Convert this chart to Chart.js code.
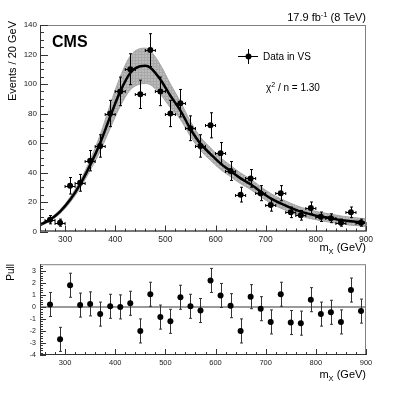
<!DOCTYPE html>
<html>
<head>
<meta charset="utf-8">
<script src="https://cdn.jsdelivr.net/npm/chart.js@4.4.1/dist/chart.umd.min.js"></script>
<style>
  body { margin: 0; background: #fff; }
  #wrap { position: relative; width: 407px; height: 396px; }
  canvas { position: absolute; left: 0; }
</style>
</head>
<body>
<div id="wrap">
  <canvas id="mainPlot" width="407" height="256" style="top:0"></canvas>
  <canvas id="pullPlot" width="407" height="140" style="top:256px"></canvas>
</div>
<script>
// data
const binCenters = [270, 290, 310, 330, 350, 370, 390, 410, 430, 450, 470, 490, 510, 530, 550, 570,
  590, 610, 630, 650, 670, 690, 710, 730, 750, 770, 790, 810, 830, 850, 870, 890];
const dataCounts = [8, 6, 31, 33, 48, 58, 80, 95, 110, 93, 123, 95, 80, 87, 70, 58,
  72, 53, 41, 25, 36, 26, 18, 26, 13, 11, 16, 10, 9, 6, 13, 6];
const dataErrors = [2.8, 2.4, 5.6, 5.7, 6.9, 7.6, 8.9, 9.7, 10.5, 9.6, 11.1, 9.7, 8.9, 9.3, 8.4, 7.6,
  8.5, 7.3, 6.4, 5, 6, 5.1, 4.2, 5.1, 3.6, 3.3, 4, 3.2, 3, 2.4, 3.6, 2.4];
const binHalfWidth = 10;

const fitMass = [250, 270, 290, 310, 330, 350, 370, 390, 410, 430, 450, 460, 470, 490, 510, 530, 550,
  570, 590, 610, 630, 650, 670, 690, 710, 730, 750, 770, 790, 810, 830, 850, 870, 890, 900];
const fitValue = [4.5, 8, 13.5, 21.5, 32, 45, 60, 78, 95, 107.5, 112, 112.3, 111, 103, 92, 82, 69.5,
  59.5, 52.5, 46, 41, 36, 32, 27, 22.5, 19, 16, 13.5, 11.6, 10.1, 9, 7.8, 7, 6.3, 6];
const fitBand = [0.8, 1, 1.3, 1.8, 2.5, 3.5, 5.5, 8, 10, 11.5, 12, 12, 11.5, 10, 8, 6, 5,
  4.5, 4.2, 4, 3.8, 3.6, 3.5, 3.4, 3.3, 3.2, 3.1, 3, 2.9, 2.8, 2.8, 2.7, 2.7, 2.6, 2.6];

const pullValues = [0.2, -2.7, 1.8, 0.15, 0.25, -0.6, 0.05, 0, 0.3, -2, 1.05, -0.85, -1.2, 0.8, 0.05, -0.3,
  2.2, 0.95, 0.1, -2, 0.85, -0.15, -1.25, 1.05, -1.3, -1.35, 0.6, -0.6, -0.45, -1.25, 1.4, -0.35];
const pullError = 1;

const xTickValues = [300, 400, 500, 600, 700, 800, 900];
const yTickValues = [0, 20, 40, 60, 80, 100, 120, 140];
const pullTickValues = [-4, -3, -2, -1, 0, 1, 2, 3];

const FONT = "'Liberation Sans', Arial, sans-serif";

function makePattern() {
  const c = document.createElement('canvas');
  c.width = 3; c.height = 3;
  const g = c.getContext('2d');
  g.fillStyle = '#bababa';
  g.fillRect(0, 0, 3, 3);
  g.fillStyle = '#a8a8a8';
  g.fillRect(0, 0, 3, 1);
  g.fillRect(0, 0, 1, 3);
  return g.createPattern(c, 'repeat');
}

// text with sub/superscripts, parts = [{t, size, dy}]
function drawRich(ctx, parts, x, y, align) {
  let total = 0;
  parts.forEach(p => {
    ctx.font = (p.bold ? 'bold ' : '') + p.size + 'px ' + FONT;
    p.w = ctx.measureText(p.t).width;
    total += p.w;
  });
  let cx = align === 'right' ? x - total : x;
  ctx.textAlign = 'left';
  ctx.textBaseline = 'alphabetic';
  parts.forEach(p => {
    ctx.font = (p.bold ? 'bold ' : '') + p.size + 'px ' + FONT;
    ctx.fillText(p.t, cx, y + (p.dy || 0));
    cx += p.w;
  });
}

function drawFrameAndTicks(ctx, chart, xMinor, yMinor, yMajorStep, yMajorLen, yMinorLen) {
  const a = chart.chartArea;
  const xs = chart.scales.x, ys = chart.scales.y;
  ctx.save();
  ctx.strokeStyle = '#808080';
  ctx.lineWidth = 1;
  ctx.strokeRect(a.left + 0.5, a.top + 0.5, a.right - a.left - 1, a.bottom - a.top - 1);
  ctx.strokeStyle = '#333';
  ctx.beginPath();
  ctx.moveTo(a.left + 0.5, a.top); ctx.lineTo(a.left + 0.5, a.bottom);
  ctx.moveTo(a.left, a.bottom - 0.5); ctx.lineTo(a.right, a.bottom - 0.5);
  // x ticks
  const nx = Math.round((xs.max - xs.min) / xMinor);
  for (let i = 0; i <= nx; i++) {
    const v = Math.ceil(xs.min / xMinor) * xMinor + i * xMinor;
    if (v > xs.max) break;
    const len = (v % 100 === 0) ? 6 : 3;
    const px = Math.round(xs.getPixelForValue(v)) + 0.5;
    ctx.moveTo(px, a.bottom); ctx.lineTo(px, a.bottom - len);
  }
  // y ticks
  const ny = Math.round((ys.max - ys.min) / yMinor);
  for (let i = 0; i <= ny; i++) {
    const v = ys.min + i * yMinor;
    if (v > ys.max + 1e-6) break;
    const r = v / yMajorStep;
    const major = Math.abs(r - Math.round(r)) < 1e-6;
    const py = Math.round(ys.getPixelForValue(v)) + 0.5;
    ctx.moveTo(a.left, py); ctx.lineTo(a.left + (major ? yMajorLen : yMinorLen), py);
  }
  ctx.stroke();
  ctx.restore();
}

const mainPlugin = {
  id: 'mainDecor',
  beforeDatasetDraw(chart, args) {
    if (args.index !== 3) return;
    const ctx = chart.ctx, xs = chart.scales.x, ys = chart.scales.y;
    ctx.save();
    ctx.strokeStyle = '#000';
    ctx.lineWidth = 1;
    ctx.beginPath();
    binCenters.forEach((c, i) => {
      const px = Math.round(xs.getPixelForValue(c)) + 0.5;
      const py = Math.round(ys.getPixelForValue(dataCounts[i])) + 0.5;
      const top = ys.getPixelForValue(dataCounts[i] + dataErrors[i]);
      const bot = ys.getPixelForValue(dataCounts[i] - dataErrors[i]);
      const l = xs.getPixelForValue(c - binHalfWidth), r = xs.getPixelForValue(c + binHalfWidth);
      ctx.moveTo(px, top); ctx.lineTo(px, bot);
      ctx.moveTo(px - 1.5, top); ctx.lineTo(px + 1.5, top);
      ctx.moveTo(px - 1.5, bot); ctx.lineTo(px + 1.5, bot);
      ctx.moveTo(l, py); ctx.lineTo(r, py);
      ctx.moveTo(l, py - 1.5); ctx.lineTo(l, py + 1.5);
      ctx.moveTo(r, py - 1.5); ctx.lineTo(r, py + 1.5);
    });
    ctx.stroke();
    ctx.restore();
  },
  afterDraw(chart) {
    const ctx = chart.ctx, a = chart.chartArea;
    drawFrameAndTicks(ctx, chart, 20, 5, 20, 8, 4);
    ctx.save();
    ctx.fillStyle = '#000';
    drawRich(ctx, [{ t: 'CMS', size: 16, bold: true }], 52, 46.5, 'left');
    drawRich(ctx, [
      { t: '17.9 fb', size: 11 },
      { t: '-1', size: 7.5, dy: -4 },
      { t: ' (8 TeV)', size: 11 }
    ], a.right, 21, 'right');
    // legend
    ctx.strokeStyle = '#000';
    ctx.lineWidth = 1;
    ctx.beginPath();
    ctx.moveTo(238, 56.5); ctx.lineTo(258, 56.5);
    ctx.moveTo(248.5, 49); ctx.lineTo(248.5, 64);
    ctx.stroke();
    ctx.beginPath();
    ctx.arc(248.5, 56.5, 3, 0, Math.PI * 2);
    ctx.fill();
    drawRich(ctx, [{ t: 'Data in VS', size: 10 }], 263, 60, 'left');
    drawRich(ctx, [
      { t: 'χ', size: 10 },
      { t: '2', size: 7, dy: -4 },
      { t: ' / n = 1.30', size: 10 }
    ], 266, 91, 'left');
    // axis titles
    drawRich(ctx, [
      { t: 'm', size: 11 },
      { t: 'X', size: 7.5, dy: 3 },
      { t: ' (GeV)', size: 11 }
    ], a.right, 251, 'right');
    ctx.translate(13, 21);
    ctx.rotate(-Math.PI / 2);
    ctx.font = '11px ' + FONT;
    ctx.textAlign = 'right';
    ctx.textBaseline = 'middle';
    ctx.fillText('Events / 20 GeV', 0, 0);
    ctx.restore();
  }
};

const pullPlugin = {
  id: 'pullDecor',
  beforeDatasetsDraw(chart) {
    const ctx = chart.ctx, xs = chart.scales.x, ys = chart.scales.y, a = chart.chartArea;
    ctx.save();
    ctx.strokeStyle = '#9a9a9a';
    ctx.lineWidth = 2;
    const y0 = ys.getPixelForValue(0);
    ctx.beginPath();
    ctx.moveTo(a.left, y0); ctx.lineTo(a.right, y0);
    ctx.stroke();
    ctx.strokeStyle = '#333';
    ctx.lineWidth = 1;
    ctx.beginPath();
    binCenters.forEach((c, i) => {
      const px = Math.round(xs.getPixelForValue(c)) + 0.5;
      const top = ys.getPixelForValue(pullValues[i] + pullError);
      const bot = ys.getPixelForValue(pullValues[i] - pullError);
      ctx.moveTo(px, top); ctx.lineTo(px, bot);
      ctx.moveTo(px - 1.5, top); ctx.lineTo(px + 1.5, top);
      ctx.moveTo(px - 1.5, bot); ctx.lineTo(px + 1.5, bot);
    });
    ctx.stroke();
    ctx.restore();
  },
  afterDraw(chart) {
    const ctx = chart.ctx, a = chart.chartArea;
    drawFrameAndTicks(ctx, chart, 20, 0.2, 1, 6, 3);
    ctx.save();
    ctx.fillStyle = '#000';
    drawRich(ctx, [
      { t: 'm', size: 11 },
      { t: 'X', size: 7.5, dy: 3 },
      { t: ' (GeV)', size: 11 }
    ], a.right, 122, 'right');
    ctx.translate(11, 8);
    ctx.rotate(-Math.PI / 2);
    ctx.font = '10px ' + FONT;
    ctx.textAlign = 'right';
    ctx.textBaseline = 'middle';
    ctx.fillText('Pull', 0, 0);
    ctx.restore();
  }
};

function xScale(fontSize, height) {
  return {
    type: 'linear', min: 250, max: 900,
    grid: { display: false, drawTicks: false },
    border: { display: false },
    afterBuildTicks: s => { s.ticks = xTickValues.map(v => ({ value: v })); },
    afterFit: s => { s.height = height; },
    ticks: { font: { family: FONT, size: fontSize }, color: '#222', padding: 3, maxRotation: 0, autoSkip: false }
  };
}

const band = makePattern();
const pts = (xs, ys) => xs.map((x, i) => ({ x: x, y: ys[i] }));

new Chart(document.getElementById('mainPlot'), {
  type: 'line',
  data: {
    datasets: [
      {
        data: pts(fitMass, fitValue.map((v, i) => v + fitBand[i])),
        borderColor: '#a4a4a4', borderWidth: 1, backgroundColor: band,
        fill: '+1', pointRadius: 0, cubicInterpolationMode: 'monotone', order: 3
      },
      {
        data: pts(fitMass, fitValue.map((v, i) => v - fitBand[i])),
        borderColor: '#a4a4a4', borderWidth: 1,
        fill: false, pointRadius: 0, cubicInterpolationMode: 'monotone', order: 2
      },
      {
        data: pts(fitMass, fitValue),
        borderColor: '#000', borderWidth: 2.5,
        fill: false, pointRadius: 0, cubicInterpolationMode: 'monotone', order: 1
      },
      {
        data: pts(binCenters, dataCounts),
        showLine: false, pointRadius: 3, pointBackgroundColor: '#000', pointBorderWidth: 0, order: 0
      }
    ]
  },
  options: {
    responsive: false, animation: false, events: [],
    layout: { padding: { left: 0, top: 25, right: 41, bottom: 0 } },
    plugins: { legend: { display: false }, tooltip: { enabled: false } },
    scales: {
      x: xScale(8.5, 24.5),
      y: {
        min: 0, max: 140,
        grid: { display: false, drawTicks: false },
        border: { display: false },
        afterBuildTicks: s => { s.ticks = yTickValues.map(v => ({ value: v })); },
        afterFit: s => { s.width = 40; },
        ticks: { font: { family: FONT, size: 8 }, color: '#222', padding: 3 }
      }
    }
  },
  plugins: [mainPlugin]
});

new Chart(document.getElementById('pullPlot'), {
  type: 'line',
  data: {
    datasets: [
      {
        data: pts(binCenters, pullValues),
        showLine: false, pointRadius: 3, pointBackgroundColor: '#000', pointBorderWidth: 0
      }
    ]
  },
  options: {
    responsive: false, animation: false, events: [],
    layout: { padding: { left: 0, top: 8, right: 41, bottom: 0 } },
    plugins: { legend: { display: false }, tooltip: { enabled: false } },
    scales: {
      x: xScale(7.5, 41),
      y: {
        min: -4, max: 3.55,
        grid: { display: false, drawTicks: false },
        border: { display: false },
        afterBuildTicks: s => { s.ticks = pullTickValues.map(v => ({ value: v })); },
        afterFit: s => { s.width = 40; },
        ticks: { font: { family: FONT, size: 7 }, color: '#222', padding: 4 }
      }
    }
  },
  plugins: [pullPlugin]
});
</script>
</body>
</html>
